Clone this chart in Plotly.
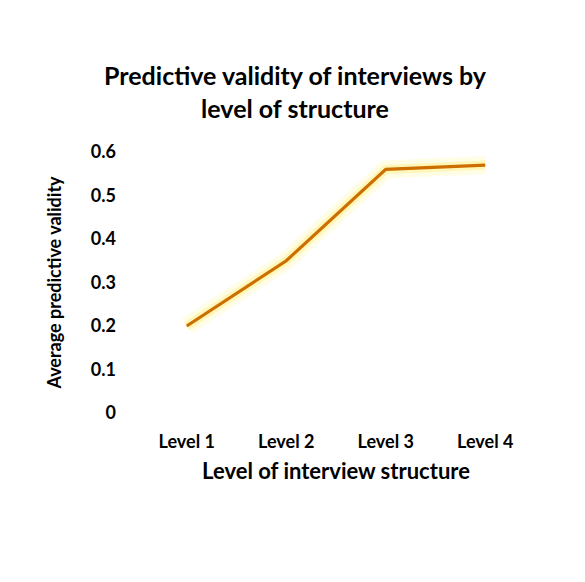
import plotly.graph_objects as go

# Interview structure vs. average predictive validity
levels = ['Level 1', 'Level 2', 'Level 3', 'Level 4']
validity = [0.20, 0.35, 0.56, 0.57]
y_ticks = [0, 0.1, 0.2, 0.3, 0.4, 0.5, 0.6]
y_labels = ['0', '0.1', '0.2', '0.3', '0.4', '0.5', '0.6']

font_name = 'Lato'
line_color = '#CC6F00'

fig = go.Figure()

# soft yellow glow under the line
fig.add_trace(go.Scatter(x=levels, y=validity, mode='lines',
                         line=dict(color='rgba(255,240,90,0.15)', width=18),
                         hoverinfo='skip', showlegend=False))
fig.add_trace(go.Scatter(x=levels, y=validity, mode='lines',
                         line=dict(color='rgba(255,230,60,0.28)', width=9),
                         hoverinfo='skip', showlegend=False))
fig.add_trace(go.Scatter(x=levels, y=validity, mode='lines',
                         line=dict(color=line_color, width=3.2),
                         showlegend=False))

fig.update_layout(
    width=585, height=582,
    margin=dict(l=129, r=58, t=144, b=177),
    paper_bgcolor='white', plot_bgcolor='white',
    font=dict(family=font_name, color='black'),
    title=dict(text='<b>Predictive validity of interviews by<br>level of structure</b>',
               x=287 / 585, xref='container', xanchor='center',
               y=1 - 77 / 582, yref='container', yanchor='top',
               font=dict(size=25, family=font_name)),
    xaxis=dict(showgrid=False, showline=False, zeroline=False,
               range=[-0.5, 3.5],
               tickfont=dict(size=18, family=font_name, weight='bold'),
               ticklabelstandoff=16,
               title=dict(text='<b>Level of interview structure</b>',
                          font=dict(size=22, family=font_name), standoff=12)),
    yaxis=dict(showgrid=False, showline=False, zeroline=False,
               range=[0, 0.6], tickvals=y_ticks, ticktext=y_labels,
               tickfont=dict(size=18, family=font_name, weight='bold'),
               ticklabelstandoff=20,
               title=dict(text='<b>Average predictive validity</b>',
                          font=dict(size=18, family=font_name), standoff=24)),
)

fig.write_html('out.html')
